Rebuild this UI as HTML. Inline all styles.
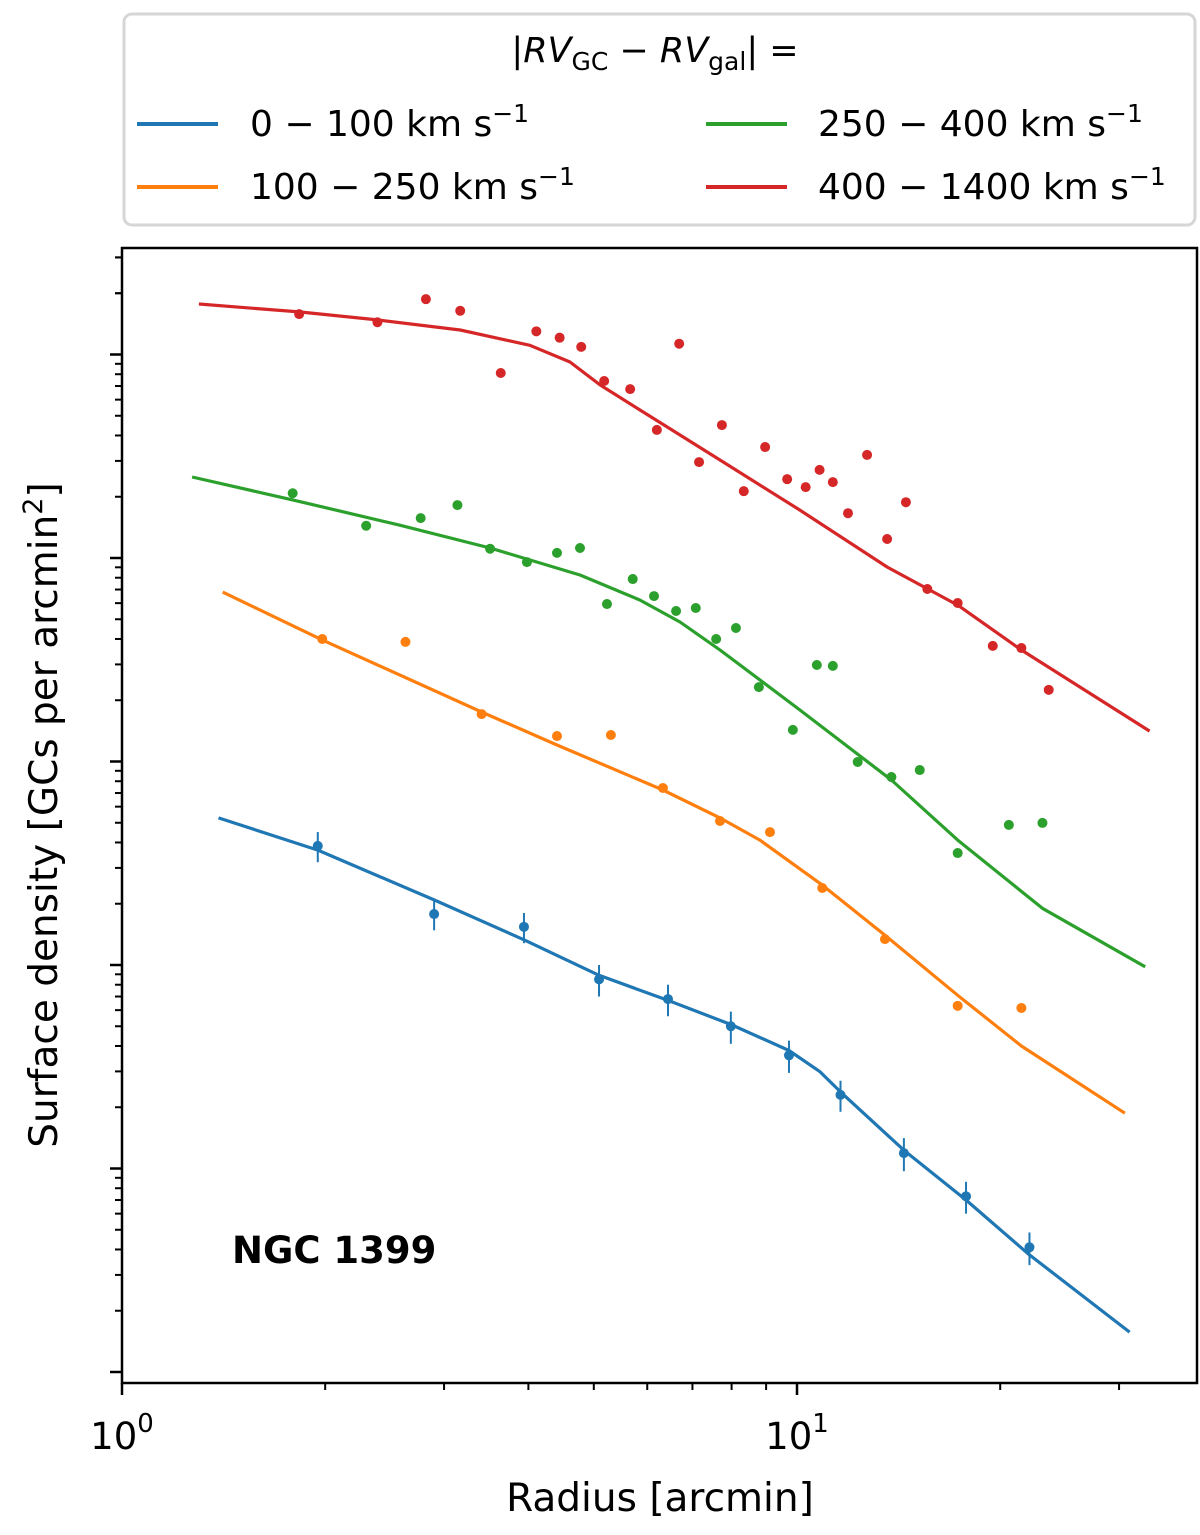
<!DOCTYPE html>
<html><head><meta charset="utf-8"><style>
html,body{margin:0;padding:0;background:#fff;}
svg{display:block;font-family:"DejaVu Sans","Liberation Sans",sans-serif;}
</style></head><body>
<svg id="chart" width="1200" height="1535" viewBox="0 0 1200 1535" xmlns="http://www.w3.org/2000/svg">
<g id="plot"></g>
<g id="legend">
<rect x="124" y="14" width="1071" height="211" rx="8" fill="#fff" stroke="#d6d6d6" stroke-width="3"/>
<text x="655" y="62" font-size="35" text-anchor="middle">|<tspan font-style="italic">RV</tspan><tspan font-size="25" dy="8">GC</tspan><tspan dy="-8"> − </tspan><tspan font-style="italic">RV</tspan><tspan font-size="25" dy="8">gal</tspan><tspan dy="-8">| =</tspan></text>
<g><line x1="137" y1="124" x2="218" y2="124" stroke="#1f77b4" stroke-width="4"/><text x="250" y="136" font-size="36">0 − 100 km s<tspan font-size="25" dy="-14">−1</tspan></text></g>
<g><line x1="137" y1="187" x2="218" y2="187" stroke="#ff7f0e" stroke-width="4"/><text x="250" y="199" font-size="36">100 − 250 km s<tspan font-size="25" dy="-14">−1</tspan></text></g>
<g><line x1="706" y1="124" x2="787" y2="124" stroke="#2ca02c" stroke-width="4"/><text x="818" y="136" font-size="36">250 − 400 km s<tspan font-size="25" dy="-14">−1</tspan></text></g>
<g><line x1="706" y1="187" x2="787" y2="187" stroke="#d62728" stroke-width="4"/><text x="818" y="199" font-size="36">400 − 1400 km s<tspan font-size="25" dy="-14">−1</tspan></text></g>
</g>
</svg>
<script>
const blueX=[1.95,2.90,3.94,5.09,6.44,7.98,9.73,11.6,14.4,17.8,22.1];
const blueY=[385,178,154,85,68,50,36,23,11.9,7.3,4.1];
const blueErr=[65,30,26,15,12,9,6.5,4,2.2,1.3,0.75];
const blueLineX=[1.39,1.95,2.90,3.94,5.09,6.44,7.98,9.73,10.8,11.6,14.4,17.8,22.1,31.1];
const blueLineY=[528,367,209,133,89,67,51,38,30,23.8,12.3,7.0,3.76,1.57];
const orangeX=[1.98,2.63,3.41,4.41,5.30,6.33,7.69,9.12,10.9,13.5,17.3,21.5];
const orangeY=[4000,3870,1710,1334,1350,741,510,450,239,134,63,61.5];
const orangeLineX=[1.41,1.98,3.41,4.41,6.33,7.69,8.81,10.9,13.5,17.3,21.5,30.6];
const orangeLineY=[6800,3960,1750,1205,724,528,411,247,140,71,40,18.7];
const greenX=[1.79,2.30,2.77,3.14,3.51,3.98,4.41,4.77,5.23,5.71,6.14,6.62,7.08,7.59,8.12,8.78,9.86,10.7,11.3,12.3,13.8,15.2,17.3,20.6,23.1];
const greenY=[20800,14400,15700,18200,11100,9550,10600,11200,5940,7880,6500,5490,5680,4000,4530,2320,1430,2980,2950,995,839,908,355,488,499];
const greenLineX=[1.27,1.79,2.58,3.51,4.77,5.85,6.71,7.69,10.1,13.8,17.3,23.1,32.8];
const greenLineY=[25000,19300,14500,11200,8250,6220,4850,3530,1790,811,411,190,98];
const redX=[1.83,2.39,2.82,3.17,3.64,4.11,4.45,4.79,5.18,5.66,6.20,6.69,7.16,7.74,8.34,8.97,9.67,10.3,10.8,11.3,11.9,12.7,13.6,14.5,15.6,17.3,19.5,21.5,23.6];
const redY=[158000,144000,187000,164000,81100,130000,121000,109000,74100,67600,42600,113000,29600,45000,21300,35100,24400,22300,27100,23600,16600,32100,12400,18800,7040,6010,3700,3610,2250];
const redLineX=[1.30,1.83,2.39,3.17,4.02,4.61,5.11,5.85,7.69,10.1,13.6,17.3,21.5,33.3];
const redLineY=[177000,162000,148000,132000,111000,91900,70800,53400,30300,17200,9030,5870,3530,1410];

const L=122,R=1197,T=248,B=1383;
function sx(v){return L+675*Math.log10(v);}
function sy(v){return 1372-203.5*Math.log10(v);}
const NS="http://www.w3.org/2000/svg";
const plot=document.getElementById('plot');
function mk(tag,attrs,parent){const e=document.createElementNS(NS,tag);for(const k in attrs)e.setAttribute(k,attrs[k]);(parent||plot).appendChild(e);return e;}

const frame=mk('rect',{x:L,y:T,width:R-L,height:B-T,fill:'none',stroke:'#000','stroke-width':2.5});



const xt=[1,2,3,4,5,6,7,8,9,10,20,30];
xt.forEach(v=>{const x=sx(v);const major=(v===1||v===10);
 const t=mk('line',{x1:x,y1:B,x2:x,y2:B+(major?12:7),stroke:'#000','stroke-width':major?2.5:2});
 
 });
const xLabels=[[1,'0'],[10,'1']];
xLabels.forEach(([v,e])=>{const t=mk('text',{x:sx(v),y:1449,'font-size':37,'text-anchor':'middle'});
 
 
 t.innerHTML='10<tspan font-size="26" dy="-17">'+e+'</tspan>';});
for(let d=0;d<6;d++){for(let m=1;m<10;m++){const v=m*Math.pow(10,d);const y=sy(v);if(y<T||y>B)continue;
 const t=mk('line',{x1:L,y1:y,x2:L-(m===1?12:7),y2:y,stroke:'#000','stroke-width':m===1?2.5:2});
 
 }}
for(let m=2;m<10;m++){const y=sy(m*1e5);if(y>=T){const t=mk('line',{x1:L,y1:y,x2:L-7,y2:y,stroke:'#000','stroke-width':2});
 
 }}

const xl=mk('text',{x:660,y:1511,'font-size':39,'text-anchor':'middle'});
xl.textContent='Radius [arcmin]';


const yl=mk('text',{x:0,y:0,'font-size':39,'text-anchor':'middle',transform:'translate(57,815) rotate(-90)'});
yl.innerHTML='Surface density [GCs per arcmin<tspan font-size="27" dy="-15">2</tspan><tspan dy="15">]</tspan>';


const ngc=mk('text',{x:232,y:1263,'font-size':37,'font-weight':'bold'});
ngc.textContent='NGC 1399';



function series(name,color,lx,ly,px,py,err){
 const d=lx.map((v,i)=>(i?'L':'M')+sx(v).toFixed(1)+' '+sy(ly[i]).toFixed(1)).join(' ');
 const p=mk('path',{d:d,fill:'none',stroke:color,'stroke-width':3.2,'stroke-linejoin':'round'});
 
 
 px.forEach((v,i)=>{
  if(err){const e=mk('line',{x1:sx(v),x2:sx(v),y1:sy(py[i]+err[i]),y2:sy(py[i]-err[i]),stroke:color,'stroke-width':2});
   
   }
  const c=mk('circle',{cx:sx(v),cy:sy(py[i]),r:5,fill:color});
  
  
 });
}
series('blue-0-100','#1f77b4',blueLineX,blueLineY,blueX,blueY,blueErr);
series('orange-100-250','#ff7f0e',orangeLineX,orangeLineY,orangeX,orangeY,null);
series('green-250-400','#2ca02c',greenLineX,greenLineY,greenX,greenY,null);
series('red-400-1400','#d62728',redLineX,redLineY,redX,redY,null);
</script>
</body></html>
